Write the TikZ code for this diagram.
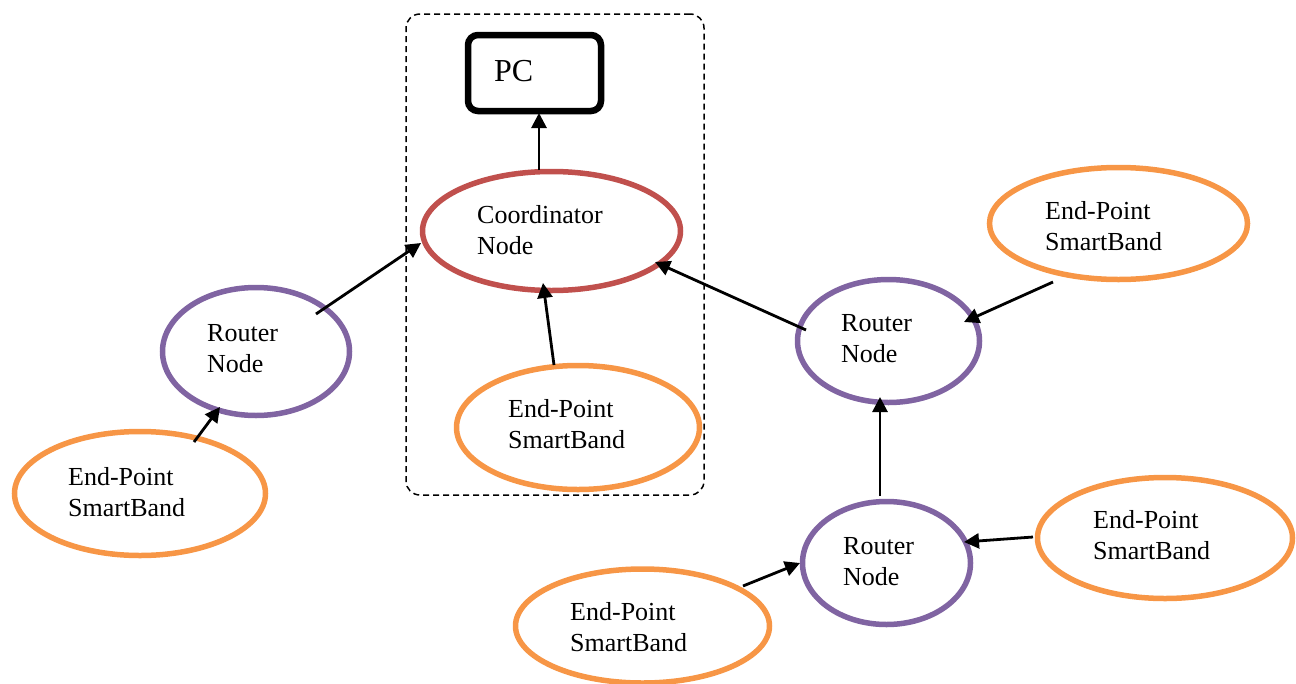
\documentclass[tikz,border=0pt]{standalone}
\usepackage{fontspec}
\setmainfont{Liberation Serif}
\usetikzlibrary{shapes.geometric,arrows.meta}
\definecolor{epOrange}{HTML}{F79646}
\definecolor{rtPurple}{HTML}{8064A2}
\definecolor{coRed}{HTML}{C0504D}
\tikzset{
  oval/.style={ellipse, draw, line width=5.5pt, inner sep=0pt, outer sep=0pt},
  endpoint/.style={oval, draw=epOrange},
  router/.style={oval, draw=rtPurple},
  coord/.style={oval, draw=coRed},
  % anchored at the baseline of the last line
  txt/.style={anchor=base west, align=left, inner sep=0pt,
    font=\fontsize{26pt}{31pt}\selectfont},
  arr/.style={line width=2.8pt, -{Triangle[length=15pt,width=15pt]}},
}
\begin{document}
\begin{tikzpicture}[x=1pt,y=-1pt]
\useasboundingbox (0,0) rectangle (1296,683);

% dashed frame around the coordinator side
\node[draw, dash pattern=on 6pt off 4pt, line width=1.5pt, rounded corners=14pt,
  minimum width=298pt, minimum height=481pt, inner sep=0pt] (hub) at (555,254.5) {};

% PC
\node[draw, line width=6.5pt, rounded corners=10pt, minimum width=133pt,
  minimum height=76pt, inner sep=0pt] (pc) at (534.5,73) {};
\node[txt, font=\fontsize{32pt}{38pt}\selectfont] (pclbl) at (494,81) {PC};

% nodes
\node[coord, minimum width=258pt, minimum height=119pt] (co) at (551.5,231) {};
\node[router, minimum width=187pt, minimum height=128pt] (rl) at (256,351.5) {};
\node[endpoint, minimum width=251pt, minimum height=124pt] (lep) at (140,493.5) {};
\node[endpoint, minimum width=243pt, minimum height=124pt] (mep) at (578,427.5) {};
\node[router, minimum width=182pt, minimum height=123pt] (r1) at (888.5,341) {};
\node[endpoint, minimum width=258pt, minimum height=112pt] (tep) at (1118.5,223.5) {};
\node[router, minimum width=168pt, minimum height=123pt] (r2) at (886.5,563) {};
\node[endpoint, minimum width=255pt, minimum height=121pt] (bep) at (1165,538) {};
\node[endpoint, minimum width=254pt, minimum height=114pt] (sep) at (642.5,626) {};

% labels
\node[txt] (colbl) at (477,254) {Coordinator\\Node};
\node[txt] (rllbl) at (207,372) {Router\\Node};
\node[txt] (leplbl) at (68,516) {End-Point\\SmartBand};
\node[txt] (meplbl) at (508,448) {End-Point\\SmartBand};
\node[txt] (r1lbl) at (841,362) {Router\\Node};
\node[txt] (teplbl) at (1045,250) {End-Point\\SmartBand};
\node[txt] (r2lbl) at (843,585) {Router\\Node};
\node[txt] (beplbl) at (1093,559) {End-Point\\SmartBand};
\node[txt] (seplbl) at (570,651) {End-Point\\SmartBand};

% connections
\draw[arr] ([shift={(-12.5,-61)}]co.center) -- ([shift={(4.5,40)}]pc.center);
\draw[arr] ([shift={(60,-37.5)}]rl.center) -- ([shift={(-130.5,12)}]co.center);
\draw[arr] ([shift={(54,-51.5)}]lep.center) -- ([shift={(-36,55.5)}]rl.center);
\draw[arr] ([shift={(-24,-62.5)}]mep.center) -- ([shift={(-8.5,52)}]co.center);
\draw[arr] ([shift={(-82.5,-11)}]r1.center) -- ([shift={(103.5,31)}]co.center);
\draw[arr] ([shift={(-65.5,58.5)}]tep.center) -- ([shift={(75.5,-19)}]r1.center);
\draw[arr] ([shift={(-6.5,-67)}]r2.center) -- ([shift={(-8.5,56)}]r1.center);
\draw[arr] ([shift={(-132,-1)}]bep.center) -- ([shift={(77.5,-21)}]r2.center);
\draw[arr] ([shift={(100.5,-40)}]sep.center) -- ([shift={(-86.5,0)}]r2.center);
\end{tikzpicture}
\end{document}
